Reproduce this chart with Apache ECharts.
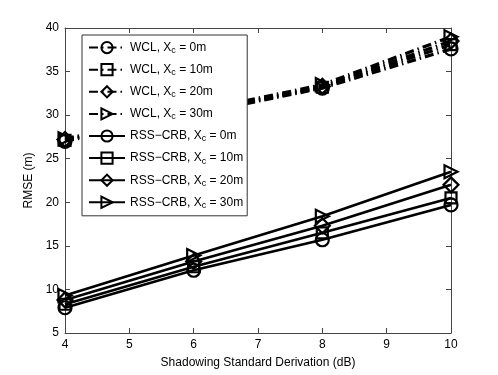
<!DOCTYPE html>
<html>
<head>
<meta charset="utf-8">
<script src="https://cdn.jsdelivr.net/npm/echarts@6/dist/echarts.min.js"></script>
<style>
  html, body { margin: 0; padding: 0; background: #fff; }
  #chart { width: 498px; height: 375px; }
</style>
</head>
<body>
<div id="chart"></div>
<script>
// 横轴：阴影标准差 (dB)
const xValues = [4, 6, 8, 10];

// WCL 曲线
const wcl0 = [27.0, 30.1, 33.1, 37.6];
const wcl10 = [27.1, 30.2, 33.2, 38.1];
const wcl20 = [27.2, 30.3, 33.3, 38.5];
const wcl30 = [27.3, 30.4, 33.5, 39.0];

// RSS-CRB 曲线
const crb0 = [7.9, 12.2, 15.7, 19.7];
const crb10 = [8.3, 12.6, 16.5, 20.5];
const crb20 = [8.8, 13.2, 17.3, 22.0];
const crb30 = [9.3, 13.9, 18.4, 23.5];

const seriesNames = [
    'WCL, X{sub|c} = 0m', 'WCL, X{sub|c} = 10m', 'WCL, X{sub|c} = 20m', 'WCL, X{sub|c} = 30m',
    'RSS\u2212CRB, X{sub|c} = 0m', 'RSS\u2212CRB, X{sub|c} = 10m', 'RSS\u2212CRB, X{sub|c} = 20m', 'RSS\u2212CRB, X{sub|c} = 30m'
];
const seriesData = [wcl0, wcl10, wcl20, wcl30, crb0, crb10, crb20, crb30];
const symbols = ['circle', 'rect', 'diamond', 'triangle'];

const font = '"Liberation Sans", Arial, sans-serif';

function makeSeries(i) {
    const isWcl = i < 4;
    const k = i % 4;
    return {
        name: seriesNames[i],
        type: 'line',
        data: xValues.map((x, j) => [x, seriesData[i][j]]),
        symbol: symbols[k],
        symbolSize: k === 1 ? 11 : (k === 2 ? 15 : 13),
        symbolRotate: k === 3 ? -90 : 0,
        showAllSymbol: true,
        itemStyle: { color: 'rgba(255,255,255,0)', borderColor: '#000', borderWidth: 2.2 },
        lineStyle: {
            color: '#000',
            width: isWcl ? 3.2 : 2.6,
            type: isWcl ? [9, 4, 1.5, 4] : 'solid'
        },
        emphasis: { disabled: true },
        animation: false,
        z: 2
    };
}

const axisCommon = {
    type: 'value',
    axisLine: { show: true, lineStyle: { color: '#444', width: 1 } },
    axisTick: { show: true, inside: true, length: 5, lineStyle: { color: '#444' } },
    splitLine: { show: false },
    axisLabel: { color: '#000', fontSize: 12, fontFamily: font }
};

const chart = echarts.init(document.getElementById('chart'));
chart.setOption({
    animation: false,
    backgroundColor: '#fff',
    grid: { left: 65, right: 47, top: 28, bottom: 42, containLabel: false },
    xAxis: [
        Object.assign({}, axisCommon, {
            min: 4, max: 10, interval: 1,
            name: 'Shadowing Standard Derivation (dB)',
            nameLocation: 'middle', nameGap: 24,
            nameTextStyle: { color: '#000', fontSize: 12, fontFamily: font },
            axisLabel: Object.assign({}, axisCommon.axisLabel, { margin: 6 })
        }),
        Object.assign({}, axisCommon, {
            position: 'top', min: 4, max: 10, interval: 1,
            axisLabel: { show: false }
        })
    ],
    yAxis: [
        Object.assign({}, axisCommon, {
            min: 5, max: 40, interval: 5,
            name: 'RMSE (m)',
            nameLocation: 'middle', nameGap: 30,
            nameTextStyle: { color: '#000', fontSize: 12, fontFamily: font },
            axisLabel: Object.assign({}, axisCommon.axisLabel, { margin: 6 })
        }),
        Object.assign({}, axisCommon, {
            position: 'right', min: 5, max: 40, interval: 5,
            axisLabel: { show: false }
        })
    ],
    legend: {
        orient: 'vertical',
        left: 82, top: 35,
        padding: [6, 4, 6, 6],
        itemWidth: 36,
        itemHeight: 14,
        itemGap: 8,
        backgroundColor: '#fff',
        borderColor: '#333',
        borderWidth: 1,
        borderRadius: 0,
        selectedMode: false,
        textStyle: {
            color: '#000',
            fontSize: 12,
            fontFamily: font,
            rich: {
                sub: { fontSize: 9, fontFamily: font, color: '#000', padding: [6, 0, 0, 0] }
            }
        },
        data: seriesNames
    },
    series: seriesData.map((d, i) => makeSeries(i))
});
</script>
</body>
</html>
